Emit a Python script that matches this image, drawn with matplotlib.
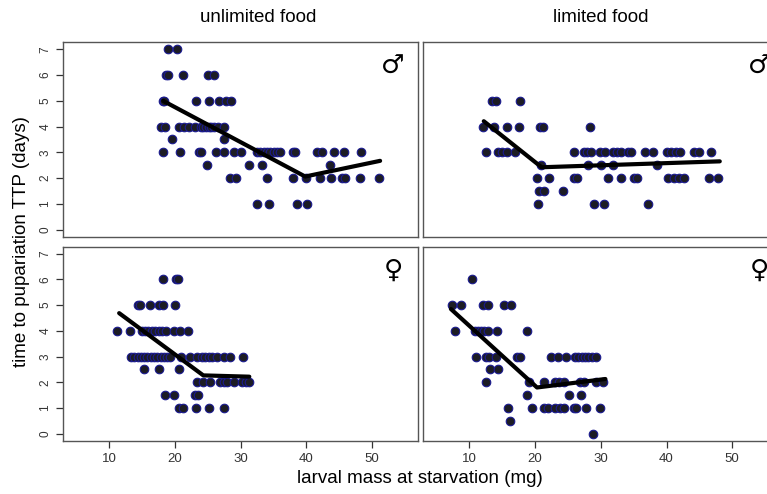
import numpy as np
import matplotlib
matplotlib.use('Agg')
import matplotlib.pyplot as plt

# unlimited food, males
ul_m_x = [18.9, 20.3,
          18.6, 19.0, 21.2, 25.0, 26.0,
          18.1, 18.3, 23.2, 25.1, 26.7, 27.8, 28.5,
          17.9, 18.5, 20.6, 21.3, 22.2, 23.1, 23.9, 24.3, 24.7, 25.1, 25.5, 26.0, 26.5, 27.4,
          19.6, 27.5,
          18.1, 20.8, 23.6, 23.9, 26.3, 27.4, 28.9, 30.1, 32.5, 32.9, 33.5, 34.0, 34.5, 35.0,
          35.5, 36.0, 38.0, 38.3, 41.6, 42.4, 44.2, 45.7, 48.3,
          24.8, 31.3, 33.3, 43.5,
          28.4, 29.2, 34.0, 38.0, 39.9, 42.1, 43.7, 45.4, 45.8, 48.1, 51.0,
          32.5, 34.3, 38.5, 40.1]
ul_m_y = [7] * 2 + [6] * 5 + [5] * 7 + [4] * 14 + [3.5] * 2 + [3] * 23 + [2.5] * 4 + [2] * 11 + [1] * 4

# limited food, males
l_m_x = [13.4, 14.1, 17.7,
         12.1, 13.8, 15.7, 17.6, 20.7, 21.2, 28.3,
         12.6, 14.3, 14.9, 15.8, 17.0, 26.0, 27.4, 27.9, 28.5, 29.9, 30.6, 31.8, 32.5, 33.0,
         34.1, 34.6, 36.8, 38.0, 40.1, 40.7, 41.4, 42.0, 44.2, 45.0, 46.7,
         20.9, 28.0, 30.0, 31.8, 38.5,
         20.3, 22.1, 26.0, 26.4, 31.1, 33.1, 35.0, 35.5, 40.3, 41.1, 41.9, 42.6, 46.4, 47.9,
         20.6, 21.3, 24.3,
         20.5, 28.9, 30.5, 37.2]
l_m_y = [5] * 3 + [4] * 7 + [3] * 25 + [2.5] * 5 + [2] * 14 + [1.5] * 3 + [1] * 4

# unlimited food, females
ul_f_x = [18.2, 20.1, 20.5,
          14.3, 14.7, 16.2, 17.5, 18.2, 20.0,
          11.1, 13.2, 14.9, 15.4, 15.9, 16.5, 17.0, 17.5, 18.0, 18.7, 19.8, 20.8, 21.9,
          13.3, 13.8, 14.3, 14.8, 15.3, 15.8, 16.3, 16.8, 17.3, 17.8, 18.3, 18.8, 19.3, 20.9,
          22.3, 23.4, 24.1, 24.6, 25.1, 25.6, 26.4, 27.4, 28.4, 30.4,
          15.3, 17.6, 20.6,
          23.4, 24.2, 25.3, 26.8, 27.4, 27.9, 29.0, 30.2, 30.8, 31.3,
          18.4, 19.8, 23.0, 23.5,
          20.6, 21.2, 23.2, 25.2, 27.5]
ul_f_y = [6] * 3 + [5] * 6 + [4] * 13 + [3] * 24 + [2.5] * 3 + [2] * 10 + [1.5] * 4 + [1] * 5

# limited food, females
l_f_x = [10.4,
         7.3, 8.8, 12.1, 12.8, 15.2, 16.3,
         7.8, 10.8, 11.3, 11.8, 12.3, 12.8, 14.2, 18.7,
         11.0, 12.5, 13.0, 14.1, 17.2, 17.7, 22.4, 23.5, 24.7, 26.1, 26.6, 27.1, 27.6, 28.1,
         28.6, 29.3,
         13.2, 14.3,
         12.5, 19.1, 21.4, 23.1, 23.6, 24.4, 26.9, 27.4, 29.3, 30.3,
         18.8, 25.2, 27.0,
         15.9, 19.6, 21.3, 22.0, 23.1, 23.8, 24.4, 25.9, 26.3, 27.7, 29.9,
         16.2,
         28.8]
l_f_y = [6] + [5] * 6 + [4] * 8 + [3] * 16 + [2.5] * 2 + [2] * 10 + [1.5] * 3 + [1] * 11 + [0.5] + [0]

# fitted broken-stick lines
ul_m_fit_x = [18.2, 39.8, 51.2]
ul_m_fit_y = [5.0, 2.06, 2.67]
l_m_fit_x = [12.2, 21.0, 48.1]
l_m_fit_y = [4.21, 2.42, 2.65]
ul_f_fit_x = [11.5, 24.3, 31.3]
ul_f_fit_y = [4.69, 2.27, 2.22]
l_f_fit_x = [7.2, 20.3, 30.7]
l_f_fit_y = [4.85, 1.80, 2.13]

panels = [
    (ul_m_x, ul_m_y, ul_m_fit_x, ul_m_fit_y, '\u2642'),
    (l_m_x, l_m_y, l_m_fit_x, l_m_fit_y, '\u2642'),
    (ul_f_x, ul_f_y, ul_f_fit_x, ul_f_fit_y, '\u2640'),
    (l_f_x, l_f_y, l_f_fit_x, l_f_fit_y, '\u2640'),
]

plt.rcParams['font.family'] = ['Liberation Sans', 'DejaVu Sans']

fig = plt.figure(figsize=(7.67, 4.94), dpi=100)
lefts = [0.0825, 0.5519]
bottoms = [0.5208, 0.1073]
w = 0.4628
h = 0.3937
sym_x = [0.929, 0.948]

for i, (px, py, fx, fy, sym) in enumerate(panels):
    row, col = divmod(i, 2)
    ax = fig.add_axes([lefts[col], bottoms[row], w, h])
    ax.scatter(px, py, s=38, facecolor='#1c1c24', edgecolor='#1a1a90', linewidth=0.8, zorder=2)
    ax.plot(fx, fy, color='black', lw=3, solid_capstyle='round', zorder=3)
    ax.set_xlim(3, 57)
    ax.set_ylim(-0.28, 7.28)
    for sp in ax.spines.values():
        sp.set_color('#555555')
        sp.set_linewidth(1.0)
    ax.text(sym_x[col], 0.875, sym, transform=ax.transAxes, fontsize=19,
            family='DejaVu Sans', ha='center', va='center')
    ax.tick_params(length=5, width=0.9, color='#333333')
    if col == 0:
        ax.set_yticks(range(8))
        ax.set_yticklabels([str(v) for v in range(8)], rotation=90, va='center',
                           fontsize=8.5, color='#333333')
    else:
        ax.set_yticks([])
    if row == 1:
        ax.set_xticks([10, 20, 30, 40, 50])
        ax.set_xticklabels(['10', '20', '30', '40', '50'], fontsize=9.5, color='#333333')
    else:
        ax.set_xticks([])

fig.text(258 / 767, 1 - 18 / 494, 'unlimited food', ha='center', va='center', fontsize=13.5)
fig.text(601 / 767, 1 - 18 / 494, 'limited food', ha='center', va='center', fontsize=13.5)
fig.text(420 / 767, 1 - 478 / 494, 'larval mass at starvation (mg)', ha='center', va='center',
         fontsize=13.5)
fig.text(22 / 767, 1 - 242 / 494, 'time to pupariation TTP (days)', ha='center', va='center',
         rotation=90, fontsize=13.5)

fig.savefig('out.png', dpi=100)
